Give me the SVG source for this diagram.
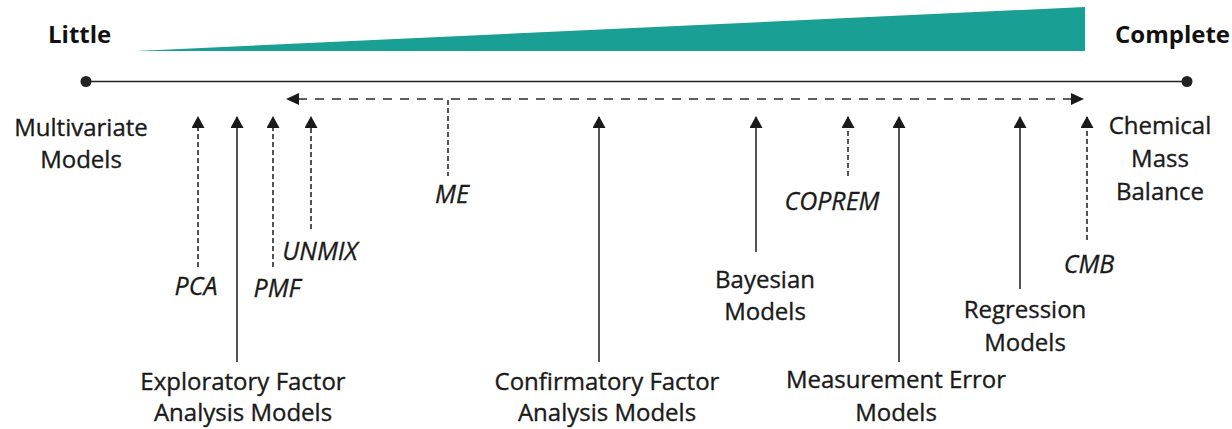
<svg xmlns="http://www.w3.org/2000/svg" width="1232" height="429" viewBox="0 0 1232 429">
<defs>
<marker id="ah" viewBox="0 0 12 13" refX="11" refY="6.5" markerWidth="12" markerHeight="13" markerUnits="userSpaceOnUse" orient="auto">
<path d="M0,0 L12,6.5 L0,13 Z" fill="#1a1a1a"/>
</marker>
<style>
.lbl{font-family:"Open Sans","Liberation Sans",sans-serif;font-size:24px;fill:#1a1a1a;stroke:#1a1a1a;stroke-width:0.35;text-anchor:middle}
.ab{font-family:"Open Sans","Liberation Sans",sans-serif;font-size:25px;font-style:italic;fill:#1a1a1a;stroke:#1a1a1a;stroke-width:0.3;text-anchor:middle}
.hd{font-family:"Open Sans","Liberation Sans",sans-serif;font-size:24px;font-weight:bold;fill:#111}
.sol{stroke:#2a2a2a;stroke-width:1.6;fill:none;marker-end:url(#ah)}
.dsh{stroke:#2a2a2a;stroke-width:1.6;fill:none;stroke-dasharray:5,3;marker-end:url(#ah)}
.dshn{stroke:#2a2a2a;stroke-width:1.6;fill:none;stroke-dasharray:5,3}
.me{stroke:#2a2a2a;stroke-width:1.6;fill:none;stroke-dasharray:9,8}
</style>
</defs>
<rect width="1232" height="429" fill="#fff"/>
<g id="scale">
<polygon points="136,51 1085,7 1085,51" fill="#1a9f94"/>
<text class="hd" x="48" y="43">Little</text>
<text class="hd" x="1115" y="43">Complete</text>
<line x1="86" y1="81.5" x2="1187" y2="81.5" stroke="#222" stroke-width="1.6"/>
<circle cx="86" cy="81.5" r="5.5" fill="#222"/>
<circle cx="1187" cy="81.5" r="5.5" fill="#222"/>
</g>
<g id="connectors">
<line class="me" x1="298" y1="99" x2="1072" y2="99"/>
<path d="M286,99 L299,93 L299,105 Z" fill="#1a1a1a"/>
<path d="M1084,99 L1071,93 L1071,105 Z" fill="#1a1a1a"/>
<line class="dshn" x1="448" y1="100" x2="448" y2="176"/>
<line class="dsh" x1="198" y1="267" x2="198" y2="117"/>
<line class="sol" x1="237" y1="362" x2="237" y2="117"/>
<line class="dsh" x1="273" y1="267" x2="273" y2="117"/>
<line class="dsh" x1="311" y1="229" x2="311" y2="117"/>
<line class="sol" x1="599" y1="362" x2="599" y2="117"/>
<line class="sol" x1="756" y1="252" x2="756" y2="117"/>
<line class="dsh" x1="848" y1="176" x2="848" y2="117"/>
<line class="sol" x1="899" y1="362" x2="899" y2="117"/>
<line class="sol" x1="1020" y1="289" x2="1020" y2="117"/>
<line class="dsh" x1="1087" y1="240" x2="1087" y2="117"/>
</g>
<g id="multivariate"><text class="lbl" x="81" y="136">Multivariate</text><text class="lbl" x="81" y="168">Models</text></g>
<g id="cmb-group"><text class="lbl" x="1160" y="134">Chemical</text><text class="lbl" x="1160" y="167">Mass</text><text class="lbl" x="1160" y="200">Balance</text></g>
<g id="me"><text class="ab" x="452" y="203">ME</text></g>
<g id="pca"><text class="ab" x="196" y="295">PCA</text></g>
<g id="pmf"><text class="ab" x="277" y="297">PMF</text></g>
<g id="unmix"><text class="ab" x="320" y="260">UNMIX</text></g>
<g id="efa"><text class="lbl" x="243" y="390">Exploratory Factor</text><text class="lbl" x="243" y="421">Analysis Models</text></g>
<g id="cfa"><text class="lbl" x="607" y="390">Confirmatory Factor</text><text class="lbl" x="607" y="421">Analysis Models</text></g>
<g id="bayesian"><text class="lbl" x="765" y="288">Bayesian</text><text class="lbl" x="765" y="320">Models</text></g>
<g id="coprem"><text class="ab" x="832" y="210">COPREM</text></g>
<g id="meas"><text class="lbl" x="896" y="388">Measurement Error</text><text class="lbl" x="896" y="421">Models</text></g>
<g id="regression"><text class="lbl" x="1025" y="318">Regression</text><text class="lbl" x="1025" y="351">Models</text></g>
<g id="cmb"><text class="ab" x="1089" y="273">CMB</text></g>
</svg>
